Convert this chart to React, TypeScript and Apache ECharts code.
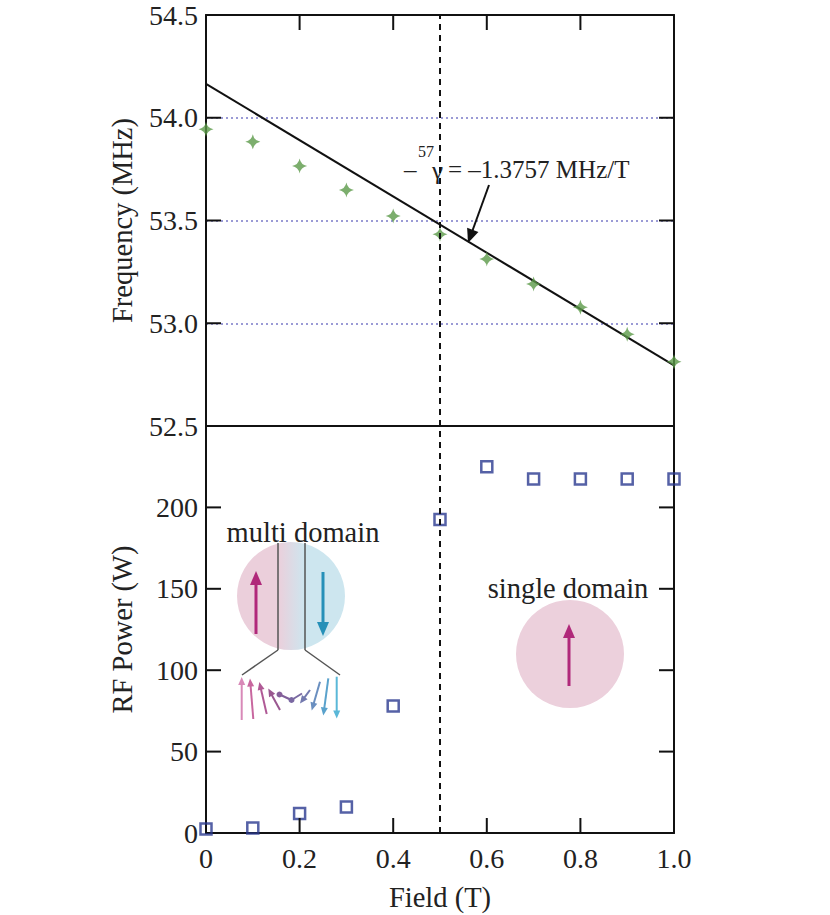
import React, { useEffect, useRef } from "react";
import * as echarts from "echarts";

// ---- data ----
const fieldT = [0, 0.1, 0.2, 0.3, 0.4, 0.5, 0.6, 0.7, 0.8, 0.9, 1.0];
const frequencyMHz = [53.944, 53.883, 53.765, 53.648, 53.522, 53.433, 53.313, 53.191, 53.078, 52.946, 52.813];
const rfPowerW = [2.5, 3, 12, 16, 78, 192.5, 225, 217.5, 217.5, 217.5, 217.5];
const fitFieldT = [0, 1.0];
const fitFrequencyMHz = [54.165, 52.795];
const domainBoundaryT = 0.5;

const fieldTicks = [0.2, 0.4, 0.6, 0.8];
const freqTicks = [53.0, 53.5, 54.0];
const powerTicks = [50, 100, 150, 200];

const FONT = "Liberation Serif";
const STAR = "path://M0,-10 Q1.6,-1.6 10,0 Q1.6,1.6 0,10 Q-1.6,1.6 -10,0 Q-1.6,-1.6 0,-10Z";
const TICK_LEN = 15;

function arrow(x1: number, y1: number, x2: number, y2: number, color: string, w: number, hl: number, hw: number) {
  const dx = x2 - x1, dy = y2 - y1;
  const L = Math.sqrt(dx * dx + dy * dy);
  const ux = dx / L, uy = dy / L;
  const bx = x2 - ux * hl, by = y2 - uy * hl;
  const px = -uy, py = ux;
  return [
    { type: "line", shape: { x1, y1, x2: bx + ux * 1, y2: by + uy * 1 }, style: { stroke: color, lineWidth: w }, silent: true },
    {
      type: "polygon",
      shape: { points: [[x2, y2], [bx + px * hw, by + py * hw], [bx - px * hw, by - py * hw]] },
      style: { fill: color },
      silent: true,
    },
  ];
}

const mkLine = () => ({ show: true, onZero: false, lineStyle: { color: "#111", width: 2 } });

export default function App() {
  const ref = useRef<HTMLDivElement>(null);
  useEffect(() => {
    document.body.style.margin = "0";
    const chart = echarts.init(ref.current!, null, { renderer: "svg" });

    const labelStyle = { color: "#222", fontFamily: FONT, fontSize: 28 };
    const nameStyle = { color: "#222", fontFamily: FONT, fontSize: 28.5 };

    const spins: any[] = [];
    const spinDefs: [number, number, number, number, string][] = [
      [241.7, 720, 241.7, 677, "#d889b8"],
      [253.3, 719, 250, 678.5, "#c8679f"],
      [266.7, 714, 259.3, 682, "#b05a96"],
      [280, 710, 268.3, 688.5, "#9a5890"],
      [310, 690, 300, 703.5, "#7379ae"],
      [320, 681.7, 311.7, 710.5, "#6a8fc0"],
      [328.3, 678.3, 323.3, 715.5, "#5aa2cc"],
      [336.7, 676.7, 336.7, 718.5, "#5ab8d8"],
    ];
    spinDefs.forEach((d) => spins.push(...arrow(d[0], d[1], d[2], d[3], d[4], 2, 8, 3.5)));
    spins.push(
      { type: "line", shape: { x1: 279.5, y1: 694.5, x2: 291.5, y2: 700 }, style: { stroke: "#80609a", lineWidth: 2 }, silent: true },
      { type: "line", shape: { x1: 291.5, y1: 700, x2: 302, y2: 693.5 }, style: { stroke: "#7a6aa2", lineWidth: 2 }, silent: true },
      { type: "circle", shape: { cx: 279.5, cy: 694.5, r: 3 }, style: { fill: "#86609a" }, silent: true },
      { type: "circle", shape: { cx: 291.5, cy: 700, r: 3 }, style: { fill: "#7a68a2" }, silent: true },
      { type: "line", shape: { x1: 278, y1: 650, x2: 242, y2: 675 }, style: { stroke: "#555", lineWidth: 1.5 }, silent: true },
      { type: "line", shape: { x1: 305, y1: 650, x2: 340, y2: 675 }, style: { stroke: "#555", lineWidth: 1.5 }, silent: true }
    );

    const option: any = {
      animation: false,
      backgroundColor: "#fff",
      grid: [
        { left: 206, right: 156, top: 15, height: 411 },
        { left: 206, right: 156, top: 426, height: 407 },
      ],
      xAxis: [
        {
          type: "value", gridIndex: 0, min: 0, max: 1, interval: 0.2, position: "bottom",
          axisLine: mkLine(), axisTick: { show: false }, axisLabel: { show: false }, splitLine: { show: false },
        },
        {
          type: "value", gridIndex: 0, min: 0, max: 1, interval: 0.2, position: "top",
          axisLine: mkLine(), axisTick: { show: false }, axisLabel: { show: false }, splitLine: { show: false },
        },
        {
          type: "value", gridIndex: 1, min: 0, max: 1, interval: 0.2, position: "bottom",
          axisLine: mkLine(), axisTick: { show: false },
          axisLabel: { ...labelStyle, margin: 11, formatter: (v: number) => (v === 0 ? "0" : v.toFixed(1)) },
          splitLine: { show: false },
          name: "Field (T)", nameLocation: "middle", nameGap: 50,
          nameTextStyle: nameStyle,
        },
      ],
      yAxis: [
        {
          type: "value", gridIndex: 0, min: 52.5, max: 54.5, interval: 0.5, position: "left",
          axisLine: mkLine(), axisTick: { show: false },
          axisLabel: { ...labelStyle, margin: 8, formatter: (v: number) => v.toFixed(1) },
          splitLine: { show: true, lineStyle: { color: "#7a7ac8", type: [2, 3], width: 1.5 } },
          name: "Frequency (MHz)", nameLocation: "middle", nameGap: 69,
          nameTextStyle: nameStyle,
        },
        {
          type: "value", gridIndex: 0, min: 52.5, max: 54.5, interval: 0.5, position: "right",
          axisLine: mkLine(), axisTick: { show: false }, axisLabel: { show: false }, splitLine: { show: false },
        },
        {
          type: "value", gridIndex: 1, min: 0, max: 250, interval: 50, position: "left",
          axisLine: mkLine(), axisTick: { show: false },
          axisLabel: { ...labelStyle, margin: 8, formatter: (v: number) => (v >= 250 ? "" : String(v)) },
          splitLine: { show: false },
          name: "RF Power (W)", nameLocation: "middle", nameGap: 69,
          nameTextStyle: nameStyle,
        },
        {
          type: "value", gridIndex: 1, min: 0, max: 250, interval: 50, position: "right",
          axisLine: mkLine(), axisTick: { show: false }, axisLabel: { show: false }, splitLine: { show: false },
        },
      ],
      series: [
        {
          type: "line", xAxisIndex: 0, yAxisIndex: 0,
          data: fitFieldT.map((x, i) => [x, fitFrequencyMHz[i]]),
          symbol: "none", lineStyle: { color: "#111", width: 2 }, silent: true, z: 3,
        },
        {
          type: "scatter", xAxisIndex: 0, yAxisIndex: 0, clip: false,
          data: fieldT.map((x, i) => [x, frequencyMHz[i]]),
          symbol: STAR, symbolSize: 15, itemStyle: { color: "#5b9a49" }, z: 4,
          markLine: {
            silent: true, symbol: ["none", "none"], label: { show: false },
            lineStyle: { color: "#111", type: [6, 5], width: 2 },
            data: [{ xAxis: domainBoundaryT }],
          },
        },
        {
          type: "scatter", xAxisIndex: 2, yAxisIndex: 2, clip: false,
          data: fieldT.map((x, i) => [x, rfPowerW[i]]),
          symbol: "rect", symbolSize: 11,
          itemStyle: { color: "rgba(0,0,0,0)", borderColor: "#2a3a90", borderWidth: 2.5 }, z: 4,
          markLine: {
            silent: true, symbol: ["none", "none"], label: { show: false },
            lineStyle: { color: "#111", type: [6, 5], width: 2 },
            data: [{ xAxis: domainBoundaryT }],
          },
        },
      ],
    };
    chart.setOption(option);

    // tick marks placed through the axes' own scales
    const ticks: any[] = [];
    const tick = (finder: any, pt: number[], dx: number, dy: number) => {
      const p = chart.convertToPixel(finder, pt) as any;
      if (!p || isNaN(p[0]) || isNaN(p[1])) return;
      ticks.push({
        type: "rect", silent: true, z: 50,
        shape: {
          x: Math.min(p[0], p[0] + dx) - (dx === 0 ? 1 : 0),
          y: Math.min(p[1], p[1] + dy) - (dy === 0 ? 1 : 0),
          width: dx === 0 ? 2 : Math.abs(dx),
          height: dy === 0 ? 2 : Math.abs(dy),
        },
        style: { fill: "#111" },
      });
    };
    const g0 = { xAxisIndex: 1, yAxisIndex: 0 };
    const g1 = { xAxisIndex: 2, yAxisIndex: 2 };
    fieldTicks.forEach((v) => tick(g0, [v, 54.5], 0, TICK_LEN));
    freqTicks.forEach((v) => { tick(g0, [0, v], TICK_LEN, 0); tick(g0, [1, v], -TICK_LEN, 0); });
    fieldTicks.forEach((v) => tick(g1, [v, 0], 0, -TICK_LEN));
    powerTicks.forEach((v) => { tick(g1, [0, v], TICK_LEN, 0); tick(g1, [1, v], -TICK_LEN, 0); });

    chart.setOption({
      graphic: [
        ...ticks,
        // annotation
        { type: "text", x: 404, y: 169, style: { text: "–", font: `25px "${FONT}"`, fill: "#222", textVerticalAlign: "middle" }, silent: true },
        { type: "text", x: 418, y: 151, style: { text: "57", font: `16px "${FONT}"`, fill: "#222", textVerticalAlign: "middle" }, silent: true },
        { type: "text", x: 432, y: 170, style: { text: "γ", font: `25px "${FONT}"`, fill: "#222", textVerticalAlign: "middle" }, silent: true },
        { type: "text", x: 448, y: 169, style: { text: "= –1.3757 MHz/T", font: `25px "${FONT}"`, fill: "#222", textVerticalAlign: "middle" }, silent: true },
        ...arrow(489, 185, 468, 243, "#111", 2, 14, 6),
        // multi domain
        { type: "text", x: 303, y: 532, style: { text: "multi domain", font: `28.5px "${FONT}"`, fill: "#222", textAlign: "center", textVerticalAlign: "middle" }, silent: true },
        {
          type: "circle", shape: { cx: 291, cy: 596, r: 54 }, silent: true,
          style: {
            fill: new echarts.graphic.LinearGradient(0, 0, 1, 0, [
              { offset: 0, color: "#ebcfdb" },
              { offset: 0.38, color: "#ebcfdb" },
              { offset: 0.63, color: "#cde6ef" },
              { offset: 1, color: "#cde6ef" },
            ]),
          },
        },
        { type: "line", shape: { x1: 278, y1: 543, x2: 278, y2: 650 }, style: { stroke: "#555", lineWidth: 1.5 }, silent: true },
        { type: "line", shape: { x1: 305, y1: 543, x2: 305, y2: 650 }, style: { stroke: "#555", lineWidth: 1.5 }, silent: true },
        ...arrow(256, 634, 256, 571, "#b0287a", 3, 14, 6),
        ...arrow(323, 572, 323, 636, "#2690b8", 3, 14, 6),
        ...spins,
        // single domain
        { type: "text", x: 568, y: 588, style: { text: "single domain", font: `28.5px "${FONT}"`, fill: "#222", textAlign: "center", textVerticalAlign: "middle" }, silent: true },
        { type: "circle", shape: { cx: 570, cy: 654, r: 54 }, style: { fill: "#ecd0dc" }, silent: true },
        ...arrow(569, 686, 569, 624, "#b0287a", 3, 14, 6),
      ],
    });
    return () => chart.dispose();
  }, []);
  return <div ref={ref} style={{ width: 830, height: 915 }} />;
}
